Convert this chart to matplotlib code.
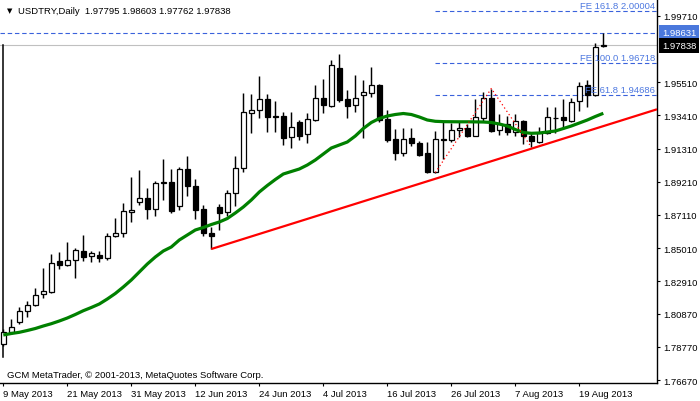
import matplotlib
matplotlib.use("Agg")
import matplotlib.pyplot as plt
import matplotlib.transforms as mtransforms
import numpy as np

plt.rcParams['font.family'] = ['Liberation Sans', 'DejaVu Sans']

# ---------------- data ----------------
symbol_title = "USDTRY,Daily"
last_ohlc = [1.97795, 1.98603, 1.97762, 1.97838]

opens = [1.78948, 1.79726, 1.80321, 1.81016, 1.81434, 1.82091, 1.82256, 1.84197, 1.83963, 1.84241,
         1.84811, 1.84494, 1.84577, 1.84387, 1.85759, 1.85949, 1.87277, 1.87909, 1.88162, 1.87467,
         1.89149, 1.89174, 1.87694, 1.90015, 1.88921, 1.87486, 1.85968, 1.87593, 1.87277, 1.88479,
         1.90060, 1.93538, 1.93727, 1.94423, 1.93367, 1.93348, 1.92020, 1.92969, 1.92210, 1.93133,
         1.94486, 1.94018, 1.96384, 1.94423, 1.94044, 1.94676, 1.94803, 1.95327, 1.93177, 1.91912,
         1.91008, 1.91976, 1.91659, 1.91008, 1.89807, 1.91849, 1.91868, 1.92463, 1.92589, 1.92121,
         1.93221, 1.94505, 1.92500, 1.92842, 1.92336, 1.93051, 1.92083, 1.91704, 1.92292, 1.93259,
         1.93285, 1.93070, 1.94297, 1.95327, 1.94714, 1.97795]
highs = [1.79897, 1.80529, 1.81269, 1.81686, 1.82471, 1.83754, 1.84640, 1.84766, 1.85399, 1.85000,
         1.85860, 1.84849, 1.84830, 1.85968, 1.86916, 1.87865, 1.89490, 1.89952, 1.88795, 1.89275,
         1.90648, 1.90015, 1.90123, 1.90856, 1.89383, 1.87758, 1.86328, 1.87802, 1.88706, 1.90856,
         1.94821, 1.94758, 1.95915, 1.94758, 1.94335, 1.93639, 1.93639, 1.93133, 1.93557, 1.95327,
         1.95707, 1.96908, 1.97288, 1.95030, 1.95960, 1.95644, 1.96447, 1.95391, 1.93746, 1.92545,
         1.92589, 1.92589, 1.91805, 1.91704, 1.92437, 1.93070, 1.92905, 1.93070, 1.92861, 1.94442,
         1.94866, 1.95104, 1.93493, 1.93386, 1.93493, 1.93114, 1.92374, 1.92652, 1.93917, 1.93917,
         1.94442, 1.94486, 1.95517, 1.95644, 1.97983, 1.98603]
lows = [1.78841, 1.79581, 1.80213, 1.80637, 1.81370, 1.81857, 1.82155, 1.83691, 1.83900, 1.83141,
        1.84216, 1.84153, 1.84153, 1.84279, 1.85715, 1.85696, 1.86645, 1.87758, 1.86853, 1.87062,
        1.88074, 1.87233, 1.87441, 1.88327, 1.86853, 1.85797, 1.84956, 1.86177, 1.87062, 1.87694,
        1.89845, 1.92292, 1.93240, 1.92336, 1.92336, 1.91533, 1.91324, 1.91849, 1.91678, 1.93070,
        1.93557, 1.93955, 1.94233, 1.93259, 1.93601, 1.91957, 1.94550, 1.92969, 1.91742, 1.90603,
        1.90818, 1.91451, 1.90856, 1.89790, 1.89787, 1.90648, 1.91742, 1.92020, 1.92020, 1.92083,
        1.93070, 1.92336, 1.92165, 1.92165, 1.92121, 1.91596, 1.91401, 1.91659, 1.92229, 1.92292,
        1.92545, 1.93006, 1.93683, 1.93917, 1.94613, 1.97762]
closes = [1.79688, 1.80004, 1.81054, 1.81434, 1.82066, 1.82281, 1.84071, 1.83963, 1.84260, 1.84874,
          1.84469, 1.84684, 1.84406, 1.85759, 1.85968, 1.87340, 1.87422, 1.88162, 1.87486, 1.89130,
          1.89193, 1.87378, 1.90015, 1.88921, 1.87441, 1.85968, 1.85797, 1.87252, 1.88497, 1.90060,
          1.93601, 1.93746, 1.94423, 1.93323, 1.93329, 1.91957, 1.92652, 1.92121, 1.93158, 1.94486,
          1.94063, 1.96592, 1.94398, 1.94018, 1.94524, 1.94904, 1.95327, 1.93114, 1.91868, 1.91008,
          1.91912, 1.91641, 1.90920, 1.89807, 1.91912, 1.91881, 1.92482, 1.92608, 1.92102, 1.93285,
          1.94486, 1.92399, 1.92842, 1.92336, 1.93032, 1.92083, 1.91767, 1.92292, 1.93285, 1.93221,
          1.93101, 1.94233, 1.95283, 1.94714, 1.97711, 1.97838]

ma_values = [1.79517, 1.79612, 1.79688, 1.79802, 1.79928, 1.80087, 1.80232, 1.80403, 1.80592, 1.80814,
             1.81054, 1.81257, 1.81478, 1.81794, 1.82142, 1.82553, 1.82996, 1.83502, 1.84007, 1.84450,
             1.84830, 1.85083, 1.85525, 1.85841, 1.86158, 1.86316, 1.86505, 1.86664, 1.86885, 1.87233,
             1.87612, 1.88055, 1.88561, 1.88972, 1.89351, 1.89699, 1.89857, 1.90015, 1.90268, 1.90584,
             1.90964, 1.91343, 1.91533, 1.91723, 1.92102, 1.92576, 1.92956, 1.93209, 1.93367, 1.93462,
             1.93525, 1.93462, 1.93304, 1.93114, 1.93032, 1.93010, 1.93005, 1.93000, 1.93000, 1.92995,
             1.92987, 1.92956, 1.92861, 1.92735, 1.92513, 1.92323, 1.92273, 1.92292, 1.92355, 1.92418,
             1.92576, 1.92735, 1.92924, 1.93114, 1.93335, 1.93538]

date_tick_bars = [0, 8, 16, 24, 32, 40, 48, 56, 64, 72]
date_labels = ["9 May 2013", "21 May 2013", "31 May 2013", "12 Jun 2013", "24 Jun 2013",
               "4 Jul 2013", "16 Jul 2013", "26 Jul 2013", "7 Aug 2013", "19 Aug 2013"]

price_ticks = [1.99710, 1.95510, 1.93410, 1.91310, 1.89210, 1.87110, 1.85010,
               1.82910, 1.80870, 1.78770, 1.76670]
price_tick_labels = ["1.99710", "1.95510", "1.93410", "1.91310", "1.89210", "1.87110",
                     "1.85010", "1.82910", "1.80870", "1.78770", "1.76670"]

trend_bars = [26, 75]
trend_prices = [1.84956, 1.92727]

fib_bars = [54, 61, 66]
fib_prices = [1.89787, 1.95104, 1.91401]
fe_names = ["FE 61.8", "FE 100.0", "FE 161.8"]
fe_values = [1.94686, 1.96718, 2.00004]

hline_level = 1.98631
bid_level = 1.97838
copyright_text = "GCM MetaTrader, \u00a9 2001-2013, MetaQuotes Software Corp."

# ---------------- figure ----------------
W, H = 700, 402
fig = plt.figure(figsize=(7.0, 4.02), dpi=100)
ax = fig.add_axes([0, 18 / H, 657 / W, 384 / H])
x_left, x_right = -0.4125, 81.71
ax.set_xlim(x_left, x_right)
ax.set_ylim(1.76482, 2.00766)

for s in ['top', 'left']:
    ax.spines[s].set_visible(False)
for s in ['right', 'bottom']:
    ax.spines[s].set_color('black')
    ax.spines[s].set_linewidth(1.0)

fs = 6.8
blue_line = '#3a62dc'
blue_text = '#4d78e0'

# candles
xs = np.arange(len(opens))
o = np.array(opens); h = np.array(highs); l = np.array(lows); c = np.array(closes)
ax.vlines(xs, l, h, color='black', lw=1.05, zorder=3)
up = c >= o
body_bottom = np.minimum(o, c)
body_h = np.abs(c - o)
ax.bar(xs[up], body_h[up], bottom=body_bottom[up], width=0.55, color='white',
       edgecolor='black', linewidth=0.9, zorder=4)
ax.bar(xs[~up], body_h[~up], bottom=body_bottom[~up], width=0.55, color='black',
       edgecolor='black', linewidth=0.9, zorder=4)

# moving average
ax.plot(xs, ma_values, color='#008000', lw=2.3, zorder=5, solid_capstyle='butt')

# trend line (ray)
slope = (trend_prices[1] - trend_prices[0]) / (trend_bars[1] - trend_bars[0])
tx = [trend_bars[0], x_right]
ty = [trend_prices[0], trend_prices[0] + slope * (x_right - trend_bars[0])]
ax.plot(tx, ty, color='#ff0000', lw=1.6, zorder=6, solid_capstyle='butt')

# fibo expansion
ax.plot(fib_bars, fib_prices, color='#ff0000', lw=0.9, linestyle=(0, (1, 2.2)), zorder=6)
bt = mtransforms.blended_transform_factory(ax.transAxes, ax.transData)
for name, val in zip(fe_names, fe_values):
    ax.plot([fib_bars[0], x_right], [val, val], color=blue_line, lw=0.8,
            linestyle=(0, (4, 2.5)), zorder=2)
    ax.text(0.997, val + 0.0009, f"{name} {val:.5f}", color=blue_text, fontsize=fs,
            ha='right', va='bottom', transform=bt, zorder=7)

# horizontal user line and bid line
ax.axhline(hline_level, color=blue_line, lw=0.8, linestyle=(0, (4, 2.5)), zorder=2)
ax.axhline(bid_level, color='#c0c0c0', lw=0.8, zorder=1)

# left vertical border segment
ax.plot([-0.1, -0.1], [bid_level, 1.78126], color='black', lw=1.1, zorder=2)

# axes ticks
ax.yaxis.tick_right()
ax.set_yticks(price_ticks)
ax.set_yticklabels(price_tick_labels)
ax.tick_params(axis='y', direction='out', length=2.5, width=0.8, pad=2.2, labelsize=fs,
               colors='black')
ax.set_xticks(date_tick_bars)
ax.set_xticklabels(date_labels, ha='left')
ax.tick_params(axis='x', direction='out', length=2.5, width=0.8, pad=1.5, labelsize=fs,
               colors='black')
for lab in ax.get_xticklabels():
    lab.set_horizontalalignment('left')

# price boxes on right
x_box = 1 + 5.0 / 657
ax.text(x_box, hline_level, f"{hline_level:.5f}", color='white', fontsize=fs, va='center',
        ha='left', transform=bt, clip_on=False,
        bbox=dict(boxstyle='square,pad=0.3', fc='#4a78dc', ec='none'))
ax.text(x_box, bid_level, f"{bid_level:.5f}", color='white', fontsize=fs, va='center',
        ha='left', transform=bt, clip_on=False,
        bbox=dict(boxstyle='square,pad=0.3', fc='black', ec='none'))

# header & footer
fig.text(7 / W, 1 - 11 / H, "\u25bc", fontsize=5, family='DejaVu Sans', va='center', ha='left')
fig.text(18 / W, 1 - 11 / H,
         symbol_title + "  " + " ".join(f"{v:.5f}" for v in last_ohlc),
         fontsize=fs, va='center', ha='left', color='black')
fig.text(7 / W, 1 - 376 / H, copyright_text, fontsize=fs, va='center', ha='left', color='black')

fig.savefig("out.png", dpi=100, facecolor='white')
